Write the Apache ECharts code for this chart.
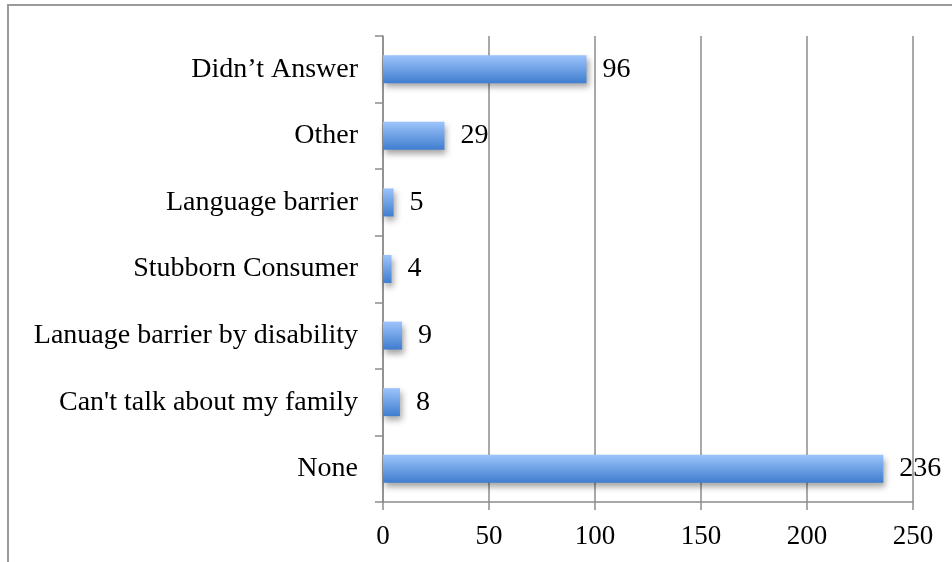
<!DOCTYPE html>
<html><head><meta charset="utf-8">
<script src="https://cdn.jsdelivr.net/npm/echarts@6/dist/echarts.min.js"></script>
<style>html,body{margin:0;padding:0;background:#fff}#c{width:952px;height:562px}</style>
</head><body><div id="c"></div>
<script>
const categories = ["Didn\u2019t Answer", "Other", "Language barrier", "Stubborn Consumer", "Lanuage barrier by disability", "Can't talk about my family", "None"];
const values = [96, 29, 5, 4, 9, 8, 236];
const xTicks = [0, 50, 100, 150, 200, 250];

const chart = echarts.init(document.getElementById('c'));
const font = 'Liberation Serif';
chart.setOption({
  animation: false,
  backgroundColor: '#fff',
  grid: { left: 383, right: 39, top: 36, bottom: 60 },
  graphic: [{
    type: 'rect', shape: { x: 8, y: 5, width: 1000, height: 700 },
    style: { fill: 'none', stroke: '#9a9a9a', lineWidth: 2 }, silent: true
  }],
  xAxis: {
    type: 'value', min: xTicks[0], max: xTicks[xTicks.length - 1], interval: 50,
    axisLine: { show: true, lineStyle: { color: '#8c8c8c', width: 1.5 } },
    axisTick: { show: true, length: 8, lineStyle: { color: '#8c8c8c', width: 1.5 } },
    splitLine: { show: true, lineStyle: { color: '#8c8c8c', width: 1.5 } },
    axisLabel: { color: '#000', fontFamily: font, fontSize: 27, margin: 21 }
  },
  yAxis: {
    type: 'category', data: categories, inverse: true,
    axisLine: { show: true, lineStyle: { color: '#8c8c8c', width: 1.5 } },
    axisTick: { show: true, length: 8, inside: false, lineStyle: { color: '#8c8c8c', width: 1.5 } },
    axisLabel: { color: '#000', fontFamily: font, fontSize: 28, margin: 25, padding: [4, 0, 0, 0] }
  },
  series: [{
    type: 'bar', data: values, barWidth: 28,
    itemStyle: {
      color: new echarts.graphic.LinearGradient(0, 0, 0, 1, [
        { offset: 0, color: '#9dc4fb' },
        { offset: 1, color: '#3f7dcf' }
      ]),
      shadowColor: 'rgba(0,0,0,0.35)', shadowBlur: 6, shadowOffsetX: 2, shadowOffsetY: 4
    },
    label: { show: true, position: 'right', distance: 16, color: '#000', fontFamily: font, fontSize: 28, padding: [4, 0, 0, 0] }
  }]
});
</script></body></html>
